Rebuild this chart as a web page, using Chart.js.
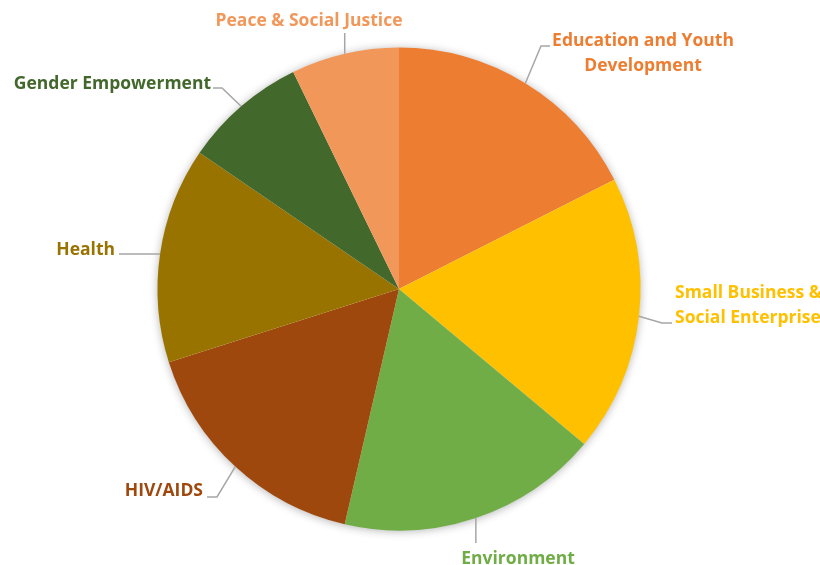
<!DOCTYPE html>
<html>
<head>
<meta charset="utf-8">
<script src="https://cdn.jsdelivr.net/npm/chart.js@4.4.1/dist/chart.umd.min.js"></script>
<style>
  html, body { margin: 0; padding: 0; background: #ffffff; }
  #wrap { width: 820px; height: 565px; position: relative; }
</style>
</head>
<body>
<div id="wrap"><canvas id="c"></canvas></div>
<script>
// ---- data ----
const categories = [
  "Education and Youth Development",
  "Small Business & Social Enterprise",
  "Environment",
  "HIV/AIDS",
  "Health",
  "Gender Empowerment",
  "Peace & Social Justice"
];
const values = [17, 18, 17, 16, 14, 8, 7];
const sliceColors = ["#ED7D31", "#FFC000", "#70AD47", "#9E480E", "#997300", "#43682B", "#F1975A"];
// label text lines (as shown in the picture)
const labelLines = [
  ["Education and Youth", "Development"],
  ["Small Business &", "Social Enterprise"],
  ["Environment"],
  ["HIV/AIDS"],
  ["Health"],
  ["Gender Empowerment"],
  ["Peace & Social Justice"]
];

// ---- label layout (offsets from pie centre, px) ----
const labelLayout = [
  { tx: 244, ty: -249, align: "center", path: [[142, -243], [151, -243]] },
  { tx: 276, ty: 3, align: "left", path: [[263, 34], [273, 34]] },
  { tx: 119, ty: 269, align: "center", path: [[null, 254]] },
  { tx: -196, ty: 201, align: "right", path: [[-182, 208], [-192, 208]] },
  { tx: -284, ty: -40, align: "right", path: [[-280, null]] },
  { tx: -188, ty: -206, align: "right", path: [[-177, -201], [-186, -201]] },
  { tx: -90, ty: -269, align: "center", path: [[null, -256]] }
];
const lineHeight = 25;
const textShiftY = 1.5;
const labelFont = "bold 17.5px 'Open Sans', Lato, sans-serif";

const shadowPlugin = {
  id: "pieShadow",
  beforeDatasetsDraw(chart) {
    const arc = chart.getDatasetMeta(0).data[0];
    if (!arc) return;
    const ctx = chart.ctx;
    ctx.save();
    ctx.shadowColor = "rgba(0,0,0,0.32)";
    ctx.shadowBlur = 10;
    ctx.shadowOffsetX = 0;
    ctx.shadowOffsetY = 1;
    ctx.fillStyle = "#ffffff";
    ctx.beginPath();
    ctx.arc(arc.x, arc.y, arc.outerRadius - 0.5, 0, Math.PI * 2);
    ctx.fill();
    ctx.restore();
  }
};

const labelPlugin = {
  id: "outLabels",
  afterDatasetsDraw(chart) {
    const ctx = chart.ctx;
    const meta = chart.getDatasetMeta(0);
    meta.data.forEach((arc, i) => {
      const lay = labelLayout[i];
      const cx = arc.x, cy = arc.y;
      const mid = (arc.startAngle + arc.endAngle) / 2;
      const ex = cx + Math.cos(mid) * arc.outerRadius;
      const ey = cy + Math.sin(mid) * arc.outerRadius;
      // leader line
      ctx.save();
      ctx.strokeStyle = "#A6A6A6";
      ctx.lineWidth = 1.5;
      ctx.beginPath();
      ctx.moveTo(ex, ey);
      lay.path.forEach(p => {
        const px = p[0] === null ? ex : cx + p[0];
        const py = p[1] === null ? ey : cy + p[1];
        ctx.lineTo(px, py);
      });
      ctx.stroke();
      ctx.restore();
      // text
      ctx.save();
      ctx.font = labelFont;
      ctx.fillStyle = sliceColors[i];
      ctx.textAlign = lay.align;
      ctx.textBaseline = "middle";
      labelLines[i].forEach((t, k) => {
        ctx.fillText(t, cx + lay.tx, cy + lay.ty + textShiftY + k * lineHeight);
      });
      ctx.restore();
    });
  }
};

new Chart(document.getElementById("c"), {
  type: "pie",
  data: {
    labels: categories,
    datasets: [{
      data: values,
      backgroundColor: sliceColors,
      borderWidth: 0
    }]
  },
  options: {
    responsive: true,
    maintainAspectRatio: false,
    animation: false,
    layout: { padding: { top: 47.5, bottom: 34.5, left: 157.5, right: 179.5 } },
    plugins: {
      legend: { display: false },
      tooltip: { enabled: false }
    }
  },
  plugins: [shadowPlugin, labelPlugin]
});
</script>
</body>
</html>
